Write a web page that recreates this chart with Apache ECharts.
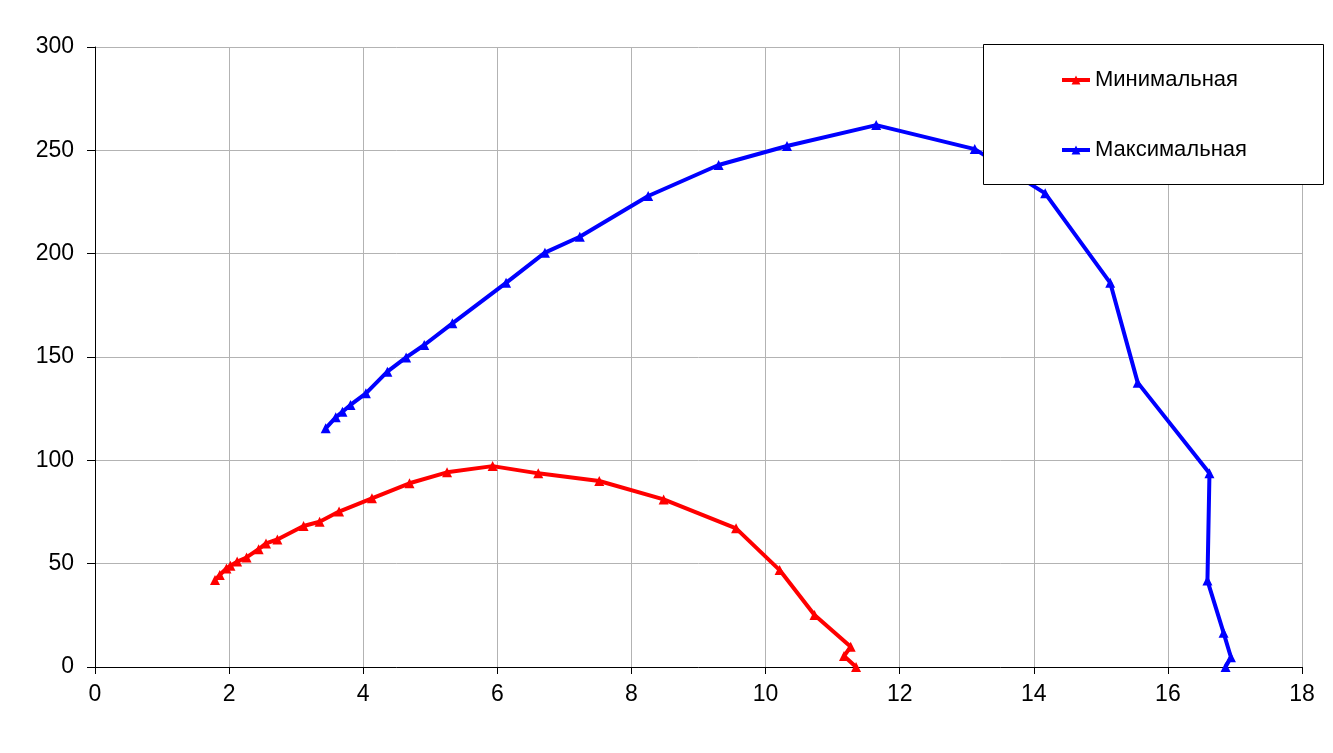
<!DOCTYPE html>
<html>
<head>
<meta charset="utf-8">
<script src="https://cdn.jsdelivr.net/npm/echarts@6/dist/echarts.min.js"></script>
<style>
html,body{margin:0;padding:0;background:#fff;}
#chart{width:1333px;height:753px;}
</style>
</head>
<body>
<div id="chart"></div>
<script>
const seriesNames = ['Минимальная', 'Максимальная'];
const minX = [1.79,1.86,1.96,2.02,2.12,2.26,2.44,2.55,2.72,3.11,3.35,3.64,4.13,4.69,5.25,5.93,6.61,7.52,8.48,9.56,10.21,10.73,11.27,11.17,11.35];
const minY = [42.1,44.5,47.7,49,51,53,57,59.8,61.7,68.2,70.3,75.2,81.6,88.9,94.2,97.2,93.7,90,81.1,67.1,46.9,25.2,9.8,5.3,0];
const maxX = [3.44,3.59,3.69,3.81,4.04,4.36,4.64,4.91,5.33,6.13,6.71,7.23,8.25,9.30,10.32,11.65,13.12,14.17,15.14,15.55,16.62,16.59,16.83,16.94,16.86];
const maxY = [115.5,120.8,123.5,126.8,132.4,142.9,149.8,155.8,166.3,185.9,200.5,208.2,227.9,242.9,252.1,262.2,250.6,229.2,185.9,137.6,93.7,41.8,16.6,4.7,0];
const xTicks = {min: 0, max: 18, interval: 2};
const yTicks = {min: 0, max: 300, interval: 50};

const pairs = (xs, ys) => xs.map((x, i) => [x, ys[i]]);
const font = 'Liberation Sans, Arial, sans-serif';

const chart = echarts.init(document.getElementById('chart'), null, {renderer: 'canvas'});
chart.setOption({
  animation: false,
  backgroundColor: '#fff',
  grid: {left: 95, right: 31, top: 47, bottom: 86, containLabel: false},
  xAxis: {
    type: 'value', min: xTicks.min, max: xTicks.max, interval: xTicks.interval,
    axisLine: {show: true, onZero: false, lineStyle: {color: '#000', width: 1}},
    axisTick: {show: true, length: 7, lineStyle: {color: '#000'}},
    axisLabel: {color: '#000', fontSize: 23, fontFamily: font, margin: 16},
    splitLine: {show: true, lineStyle: {color: '#b3b3b3', width: 1}}
  },
  yAxis: {
    type: 'value', min: yTicks.min, max: yTicks.max, interval: yTicks.interval,
    axisLine: {show: true, onZero: false, lineStyle: {color: '#000', width: 1}},
    axisTick: {show: true, length: 8, lineStyle: {color: '#000'}},
    axisLabel: {color: '#000', fontSize: 23, fontFamily: font, margin: 21},
    splitLine: {show: true, lineStyle: {color: '#b3b3b3', width: 1}}
  },
  graphic: [{
    type: 'rect', z: 100,
    shape: {x: 983.5, y: 44.5, width: 340, height: 140},
    style: {fill: '#fff', stroke: '#000', lineWidth: 1}
  }],
  legend: {
    z: 101,
    orient: 'vertical',
    left: 1060, top: 69,
    padding: 0,
    itemGap: 48,
    itemWidth: 28, itemHeight: 11,
    lineStyle: {width: 4},
    textStyle: {color: '#000', fontSize: 22, fontFamily: font},
    data: seriesNames
  },
  series: [
    {
      name: seriesNames[0], type: 'line', data: pairs(minX, minY),
      color: '#ff0000',
      lineStyle: {color: '#ff0000', width: 4},
      itemStyle: {color: '#ff0000'},
      symbol: 'triangle', symbolSize: 10, showAllSymbol: true
    },
    {
      name: seriesNames[1], type: 'line', data: pairs(maxX, maxY),
      color: '#0000ff',
      lineStyle: {color: '#0000ff', width: 4},
      itemStyle: {color: '#0000ff'},
      symbol: 'triangle', symbolSize: 10, showAllSymbol: true
    }
  ]
});
</script>
</body>
</html>
